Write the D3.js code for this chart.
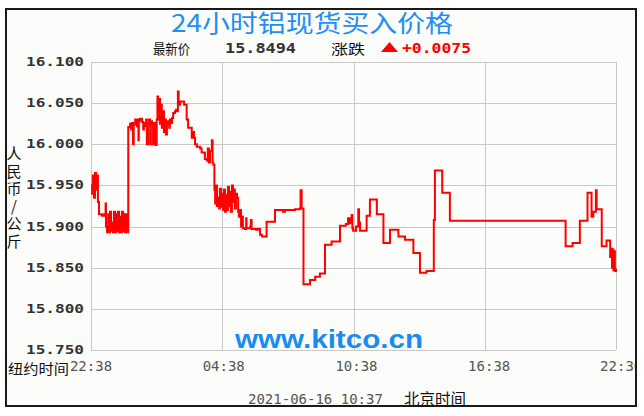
<!DOCTYPE html>
<html>
<head>
<meta charset="utf-8">
<script src="https://cdn.jsdelivr.net/npm/d3@7"></script>
<style>
  body { margin: 0; background: #fff; }
  svg { display: block; }
</style>
</head>
<body>
<svg id="chart" width="644" height="416"></svg>
<script>
// minutes after 22:38 (New York time) and the buy price from that minute on
const minutes = [
  0, 3, 5, 8, 11, 14, 16, 19, 22, 25, 30, 36, 40, 41, 44, 47, 49, 52, 55, 58, 60, 63, 66, 68, 71, 74, 77, 79, 82, 85, 88, 90, 93, 96, 99,
  102, 107, 110, 112, 115, 117, 121, 126, 129, 130, 131, 134, 140, 143, 145, 148, 151, 153, 156, 159, 162, 164, 167, 170, 173, 177, 180,
  182, 184, 186, 189, 192, 194, 197, 200, 203, 205, 208, 211, 214, 216, 219, 222, 225, 230, 233, 236, 238, 240, 244, 249, 255, 262, 266,
  271, 276, 279, 282, 285, 290, 294, 299, 303, 310, 312, 318, 320, 323, 326, 331, 333, 335,
  338, 340, 342, 345, 348, 351, 353, 356, 359, 362, 364, 367, 370, 373, 375, 378, 381, 383, 386, 389, 392, 394, 397, 400, 403, 405, 408,
  411, 414, 416, 422, 425, 426, 430, 436, 438, 440, 447, 452, 457, 463, 468, 481, 504,
  526, 531, 559, 572, 574, 577, 582, 600, 614, 627, 641, 659, 682, 698, 704, 709, 714, 716, 718, 726, 732, 734, 737, 755, 764, 783, 801,
  819, 842, 860, 883, 901, 919, 939, 942, 962, 983,
  1300, 1319, 1339, 1360, 1371, 1376, 1383, 1385, 1399, 1412, 1422, 1424, 1427, 1429, 1431, 1433, 1435, 1438
];
const prices = [
  15.950, 15.940, 15.962, 15.935, 15.965, 15.945, 15.962, 15.930, 15.915, 15.915, 15.913, 15.915, 15.928, 15.900, 15.893, 15.915, 15.893,
  15.918, 15.895, 15.905, 15.893, 15.918, 15.893, 15.915, 15.895, 15.918, 15.893, 15.912, 15.893, 15.918, 15.895, 15.915, 15.893, 15.915, 15.893,
  16.021, 16.025, 16.018, 16.026, 16.000, 16.024, 16.030, 16.022, 16.030, 16.005, 16.028, 16.031, 16.027, 16.018, 16.026, 16.022, 16.030,
  16.000, 16.025, 16.030, 16.000, 16.028, 16.025, 16.000, 16.026, 15.999, 16.030,
  16.058, 16.030, 16.055, 16.025, 16.048, 16.020, 16.040, 16.015, 16.030, 16.012, 16.028, 16.025, 16.020, 16.030, 16.026, 16.032, 16.038,
  16.040, 16.042, 16.040, 16.064, 16.048, 16.052, 16.052, 16.048, 16.030, 16.020,
  16.020, 16.008, 16.015, 16.008, 16.000, 15.997, 15.997, 15.995, 15.990, 15.990, 15.982, 15.980, 15.995, 15.978, 15.992, 16.005, 15.978, 15.975,
  15.945, 15.928, 15.950, 15.925, 15.935, 15.922, 15.946, 15.924, 15.940, 15.920, 15.945, 15.918, 15.938, 15.920, 15.948, 15.925, 15.942,
  15.918, 15.950, 15.930, 15.945, 15.922, 15.940, 15.935, 15.918, 15.912, 15.920,
  15.900, 15.912, 15.898, 15.897, 15.910, 15.898, 15.898, 15.900, 15.908, 15.897, 15.897, 15.896, 15.897, 15.890, 15.888, 15.906, 15.920,
  15.918, 15.920, 15.921, 15.922, 15.944, 15.922, 15.830, 15.835, 15.839, 15.843, 15.878, 15.882, 15.901, 15.903, 15.910, 15.904, 15.914,
  15.898, 15.895, 15.900, 15.921, 15.905, 15.895, 15.913, 15.933, 15.915, 15.880,
  15.896, 15.888, 15.884, 15.868, 15.844, 15.846, 15.908, 15.968, 15.941, 15.907,
  15.876, 15.880, 15.907, 15.941, 15.912, 15.918, 15.944, 15.921, 15.876, 15.883, 15.863, 15.873, 15.850, 15.872, 15.847, 15.870, 15.846, 15.849
];
const yTicks = [16.1, 16.05, 16.0, 15.95, 15.9, 15.85, 15.8, 15.75];
const xTickMinutes = [0, 360, 720, 1080, 1438];
const xTickLabels = ["22:38", "04:38", "10:38", "16:38", "22:36"];
const titleText = "24小时铝现货买入价格";
const lastPrice = "15.8494";
const changeText = "+0.0075";
const unitText = "人民币/公斤";
const updatedAt = "2021-06-16 10:37";

const start = new Date(2021, 5, 15, 22, 38);
const data = minutes.map((m, i) => ({ t: d3.timeMinute.offset(start, m), v: prices[i] }));

const svg = d3.select("#chart");
const plot = { left: 91, right: 616, top: 62, bottom: 350 };
const cjk = "'Noto Sans CJK SC', sans-serif";
const mono = "'DejaVu Sans Mono', monospace";

const x = d3.scaleTime()
  .domain([start, d3.timeMinute.offset(start, 1438)])
  .range([plot.left, plot.right]);
const y = d3.scaleLinear().domain([15.75, 16.1]).range([plot.bottom, plot.top]);

// outer frame
svg.append("clipPath").attr("id", "frame")
  .append("rect").attr("x", 7).attr("y", 10).attr("width", 628).attr("height", 395);
svg.append("rect")
  .attr("x", 6).attr("y", 9).attr("width", 630).attr("height", 397)
  .attr("fill", "#fcfdfa").attr("stroke", "#1a1a1a").attr("stroke-width", 2);

// title block
svg.append("text")
  .attr("x", 171).attr("y", 32)
  .attr("textLength", 282).attr("lengthAdjust", "spacingAndGlyphs")
  .style("font-family", cjk).style("font-size", "24px")
  .style("fill", "#1f8ff5")
  .text(titleText);

svg.append("text").attr("x", 153).attr("y", 54)
  .attr("textLength", 37).attr("lengthAdjust", "spacingAndGlyphs")
  .style("font-family", cjk).style("font-size", "14px").style("fill", "#111")
  .text("最新价");
svg.append("text").attr("x", 225).attr("y", 53)
  .attr("textLength", 71).attr("lengthAdjust", "spacingAndGlyphs")
  .style("font-family", mono).style("font-size", "14px").style("font-weight", "bold").style("fill", "#333")
  .text(lastPrice);
svg.append("text").attr("x", 331).attr("y", 54)
  .attr("textLength", 34).attr("lengthAdjust", "spacingAndGlyphs")
  .style("font-family", cjk).style("font-size", "14px").style("fill", "#111")
  .text("涨跌");
svg.append("path")
  .attr("d", "M381,52L398,52L389.5,42Z")
  .attr("fill", "#ff0000");
svg.append("text").attr("x", 402).attr("y", 53)
  .attr("textLength", 69).attr("lengthAdjust", "spacingAndGlyphs")
  .style("font-family", mono).style("font-size", "14px").style("font-weight", "bold").style("fill", "#ff0000")
  .text(changeText);

// grid
const grid = svg.append("g")
  .attr("stroke", "#c8c8c8").attr("stroke-width", 1)
  .attr("shape-rendering", "crispEdges");
grid.selectAll(".h").data(yTicks).enter().append("line")
  .attr("x1", plot.left).attr("x2", plot.right)
  .attr("y1", d => Math.round(y(d)) + 0.5).attr("y2", d => Math.round(y(d)) + 0.5);
grid.selectAll(".v").data(xTickMinutes).enter().append("line")
  .attr("y1", plot.top).attr("y2", plot.bottom)
  .attr("x1", d => Math.round(x(d3.timeMinute.offset(start, d))) + 0.5)
  .attr("x2", d => Math.round(x(d3.timeMinute.offset(start, d))) + 0.5);

// watermark
svg.append("text")
  .attr("x", 235).attr("y", 348)
  .attr("textLength", 188).attr("lengthAdjust", "spacingAndGlyphs")
  .style("font-family", "'Liberation Sans', Arial, sans-serif")
  .style("font-size", "25px").style("font-weight", "bold")
  .style("fill", "#1a8cf0")
  .text("www.kitco.cn");

// price line
const line = d3.line()
  .x(d => x(d.t))
  .y(d => y(d.v))
  .curve(d3.curveStepAfter);
svg.append("path")
  .datum(data)
  .attr("d", line)
  .attr("fill", "none")
  .attr("stroke", "#ff0000")
  .attr("stroke-width", 2);

// y labels
svg.append("g").selectAll("text").data(yTicks).enter().append("text")
  .attr("x", 84).attr("y", d => y(d) + 4)
  .attr("text-anchor", "end")
  .attr("textLength", 58).attr("lengthAdjust", "spacingAndGlyphs")
  .style("font-family", mono).style("font-size", "13px").style("font-weight", "bold")
  .style("fill", "#333")
  .text(d => d3.format(".3f")(d));

// unit label, vertical
svg.append("text")
  .attr("x", 14).attr("y", 146)
  .style("writing-mode", "vertical-rl")
  .style("text-orientation", "upright")
  .style("letter-spacing", "2.5px")
  .style("font-family", cjk).style("font-size", "15px").style("fill", "#111")
  .text(unitText);

// x labels
svg.append("g").attr("clip-path", "url(#frame)")
  .selectAll("text").data(xTickMinutes).enter().append("text")
  .attr("x", (d, i) => x(d3.timeMinute.offset(start, d)) + i * 1.3)
  .attr("y", 371)
  .attr("text-anchor", "middle")
  .style("font-family", mono).style("font-size", "14px")
  .style("fill", "#555")
  .text((d, i) => xTickLabels[i]);

svg.append("text").attr("x", 8).attr("y", 374)
  .attr("textLength", 61).attr("lengthAdjust", "spacingAndGlyphs")
  .style("font-family", cjk).style("font-size", "14px").style("fill", "#111")
  .text("纽约时间");

svg.append("text").attr("x", 248).attr("y", 404)
  .style("font-family", mono).style("font-size", "14px").style("fill", "#555")
  .text(updatedAt);
svg.append("text").attr("x", 404).attr("y", 405)
  .style("font-family", cjk).style("font-size", "15.5px").style("fill", "#111")
  .text("北京时间");
</script>
</body>
</html>
